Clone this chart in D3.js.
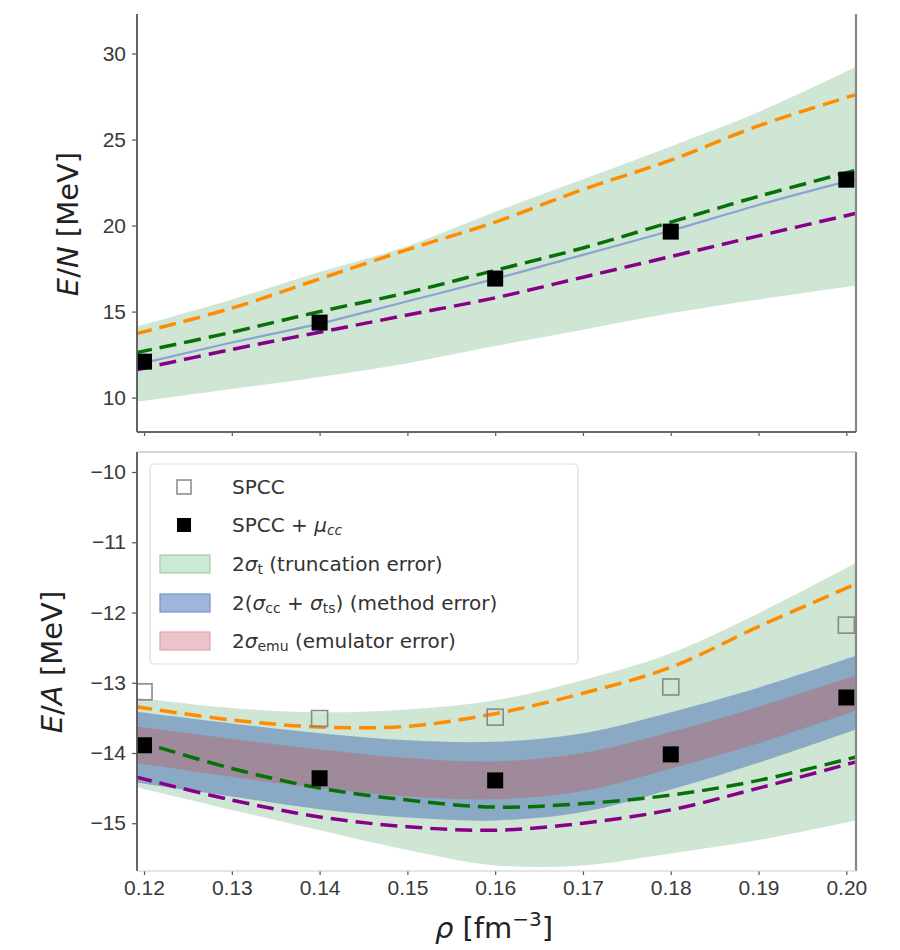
<!DOCTYPE html>
<html>
<head>
<meta charset="utf-8">
<script src="https://cdn.jsdelivr.net/npm/d3@7"></script>
<style>
  body { margin: 0; background: #fff; }
  svg { font-family: "DejaVu Sans", sans-serif; }
</style>
</head>
<body>
<div id="chart"></div>
<script>
// density grid for the curves (spans the full x range) and the SPCC sample points
const rhoGrid = [0.119, 0.13, 0.14, 0.15, 0.16, 0.17, 0.18, 0.19, 0.201];
const rhoPts = [0.12, 0.14, 0.16, 0.18, 0.20];

// top panel: E/N (neutron matter)
const pnmTruncUpper = [14.1, 15.7, 17.3, 18.8, 20.8, 22.7, 24.6, 26.6, 29.2];
const pnmTruncLower = [9.75, 10.5, 11.2, 12.0, 13.0, 13.95, 14.9, 15.7, 16.5];
const pnmOrange = [13.7, 15.2, 16.9, 18.6, 20.2, 22.1, 23.8, 25.8, 27.6];
const pnmGreen = [12.6, 13.8, 15.0, 16.1, 17.4, 18.7, 20.2, 21.7, 23.2];
const pnmPurple = [11.6, 12.8, 13.8, 14.8, 15.8, 17.0, 18.2, 19.4, 20.7];
const pnmBlue = [11.9, 13.2, 14.3, 15.6, 16.9, 18.3, 19.7, 21.2, 22.7];
const pnmSpccMu = [12.09, 14.36, 16.92, 19.65, 22.67];

// bottom panel: E/A (symmetric matter)
const snmTruncUpper = [-13.21, -13.36, -13.42, -13.38, -13.25, -12.96, -12.58, -12.01, -11.30];
const snmTruncLower = [-14.48, -14.81, -15.10, -15.38, -15.60, -15.60, -15.43, -15.24, -14.96];
const snmMethodUpper = [-13.41, -13.58, -13.72, -13.82, -13.84, -13.72, -13.42, -13.07, -12.62];
const snmMethodLower = [-14.42, -14.62, -14.80, -14.92, -14.96, -14.84, -14.52, -14.14, -13.67];
const snmEmuUpper = [-13.62, -13.80, -13.95, -14.07, -14.12, -14.00, -13.70, -13.34, -12.90];
const snmEmuLower = [-14.14, -14.34, -14.50, -14.62, -14.66, -14.54, -14.22, -13.86, -13.40];
const snmOrange = [-13.34, -13.53, -13.63, -13.62, -13.44, -13.15, -12.78, -12.20, -11.60];
const snmGreen = [-13.82, -14.22, -14.50, -14.67, -14.77, -14.72, -14.60, -14.39, -14.06];
const snmPurple = [-14.34, -14.67, -14.91, -15.05, -15.10, -15.00, -14.81, -14.50, -14.13];
const snmSpcc = [-13.13, -13.51, -13.49, -13.06, -12.18];
const snmSpccMu = [-13.89, -14.36, -14.39, -14.02, -13.21];

// ticks
const xTicks = [0.12, 0.13, 0.14, 0.15, 0.16, 0.17, 0.18, 0.19, 0.20];
const topYTicks = [10, 15, 20, 25, 30];
const bottomYTicks = [-15, -14, -13, -12, -11, -10];

const W = 900, H = 950;
const left = 137, right = 856;
const topPanel = {top: 14, bottom: 432};
const botPanel = {top: 452, bottom: 871};

const colors = {
    trunc: '#cfe6d5',
    method: '#8aa9c4',
    emu: '#9e8a9a',
    orange: '#ff8c00',
    green: '#087008',
    purple: '#880088',
    blueLine: '#88a4d2'
};

const svg = d3.select('#chart').append('svg')
    .attr('width', W)
    .attr('height', H);

const x = d3.scaleLinear().domain([0.1192, 0.2011]).range([left, right]);
const yTop = d3.scaleLinear().domain([8.0, 32.3]).range([topPanel.bottom, topPanel.top]);
const yBot = d3.scaleLinear().domain([-15.68, -9.715]).range([botPanel.bottom, botPanel.top]);

const curve = d3.curveCatmullRom.alpha(0.5);
const fmtMinus = d => d3.format('d')(d).replace('-', '\u2212');

function band(g, y, lower, upper, fill) {
    const area = d3.area()
        .x((d, i) => x(rhoGrid[i]))
        .y0((d, i) => y(lower[i]))
        .y1((d, i) => y(upper[i]))
        .curve(curve);
    g.append('path').datum(lower).attr('d', area).attr('fill', fill);
}

function dashed(g, y, vals, color) {
    const line = d3.line()
        .x((d, i) => x(rhoGrid[i]))
        .y(d => y(d))
        .curve(curve);
    g.append('path').datum(vals).attr('d', line)
        .attr('fill', 'none')
        .attr('stroke', color)
        .attr('stroke-width', 3.5)
        .attr('stroke-dasharray', '17 8');
}

function squares(g, y, vals, filled) {
    const s = 16;
    g.selectAll(null).data(vals).enter().append('rect')
        .attr('x', (d, i) => x(rhoPts[i]) - s / 2)
        .attr('y', d => y(d) - s / 2)
        .attr('width', s)
        .attr('height', s)
        .attr('fill', filled ? '#000' : 'none')
        .attr('stroke', filled ? '#000' : '#888')
        .attr('stroke-width', filled ? 0 : 1.6);
}

// clip paths so the curves stay inside the frames
const defs = svg.append('defs');
defs.append('clipPath').attr('id', 'clipTop').append('rect')
    .attr('x', left).attr('y', topPanel.top)
    .attr('width', right - left).attr('height', topPanel.bottom - topPanel.top);
defs.append('clipPath').attr('id', 'clipBot').append('rect')
    .attr('x', left).attr('y', botPanel.top)
    .attr('width', right - left).attr('height', botPanel.bottom - botPanel.top);

// ---- top panel ----
const gTop = svg.append('g').attr('clip-path', 'url(#clipTop)');
band(gTop, yTop, pnmTruncLower, pnmTruncUpper, colors.trunc);
dashed(gTop, yTop, pnmOrange, colors.orange);
dashed(gTop, yTop, pnmGreen, colors.green);
dashed(gTop, yTop, pnmPurple, colors.purple);
gTop.append('path').datum(pnmBlue)
    .attr('d', d3.line().x((d, i) => x(rhoGrid[i])).y(d => yTop(d)).curve(curve))
    .attr('fill', 'none')
    .attr('stroke', colors.blueLine)
    .attr('stroke-width', 2.2);
squares(gTop, yTop, pnmSpccMu, true);

// ---- bottom panel ----
const gBot = svg.append('g').attr('clip-path', 'url(#clipBot)');
band(gBot, yBot, snmTruncLower, snmTruncUpper, colors.trunc);
band(gBot, yBot, snmMethodLower, snmMethodUpper, colors.method);
band(gBot, yBot, snmEmuLower, snmEmuUpper, colors.emu);
dashed(gBot, yBot, snmOrange, colors.orange);
dashed(gBot, yBot, snmGreen, colors.green);
dashed(gBot, yBot, snmPurple, colors.purple);
squares(gBot, yBot, snmSpcc, false);
squares(gBot, yBot, snmSpccMu, true);

// ---- axes ----
function styleAxis(g) {
    g.select('.domain').remove();
    g.selectAll('.tick line').attr('stroke', '#555').attr('stroke-width', 1.2);
    g.selectAll('.tick text').attr('fill', '#3a3a3a').style('font-size', '21px');
}

svg.append('g')
    .attr('transform', `translate(${left},0)`)
    .call(d3.axisLeft(yTop).tickValues(topYTicks).tickSize(5).tickPadding(6))
    .call(styleAxis);

svg.append('g')
    .attr('transform', `translate(${left},0)`)
    .call(d3.axisLeft(yBot).tickValues(bottomYTicks).tickSize(5).tickPadding(6).tickFormat(fmtMinus))
    .call(styleAxis);

svg.append('g')
    .attr('transform', `translate(0,${topPanel.bottom})`)
    .call(d3.axisBottom(x).tickValues(xTicks).tickSize(4).tickFormat(''))
    .call(styleAxis);

svg.append('g')
    .attr('transform', `translate(0,${botPanel.bottom})`)
    .call(d3.axisBottom(x).tickValues(xTicks).tickSize(4).tickPadding(5).tickFormat(d3.format('.2f')))
    .call(styleAxis);

// spines
const spine = (x1, y1, x2, y2, c, w) => svg.append('line')
    .attr('x1', x1).attr('y1', y1).attr('x2', x2).attr('y2', y2)
    .attr('stroke', c).attr('stroke-width', w);
spine(left, topPanel.top, left, topPanel.bottom, '#555', 1.8);
spine(right, topPanel.top, right, topPanel.bottom, '#888', 2.2);
spine(left, topPanel.bottom, right, topPanel.bottom, '#666', 1.8);
spine(left, botPanel.top, left, botPanel.bottom, '#555', 1.8);
spine(right, botPanel.top, right, botPanel.bottom, '#888', 2.2);
spine(left, botPanel.top, right, botPanel.top, '#aaa', 1.2);
spine(left, botPanel.bottom, right, botPanel.bottom, '#ccc', 1.2);

// axis labels
function yLabel(cx, cy, letter) {
    const t = svg.append('text')
        .attr('transform', `translate(${cx},${cy}) rotate(-90)`)
        .attr('text-anchor', 'middle')
        .attr('dominant-baseline', 'central')
        .attr('fill', '#222')
        .style('font-size', '29px');
    t.append('tspan').style('font-style', 'italic').text('E');
    t.append('tspan').text('/');
    t.append('tspan').style('font-style', 'italic').text(letter);
    t.append('tspan').text(' [MeV]');
}
yLabel(68, 224, 'N');
yLabel(52, 662, 'A');

const xl = svg.append('text')
    .attr('x', 494).attr('y', 938)
    .attr('text-anchor', 'middle')
    .attr('fill', '#222')
    .style('font-size', '29px');
xl.append('tspan').style('font-style', 'italic').text('ρ');
xl.append('tspan').text(' [fm');
xl.append('tspan').attr('dy', -12).style('font-size', '20px').text('\u22123');
xl.append('tspan').attr('dy', 12).text(']');

// ---- legend ----
const legend = svg.append('g');
legend.append('rect')
    .attr('x', 150).attr('y', 464)
    .attr('width', 428).attr('height', 200)
    .attr('rx', 4)
    .attr('fill', '#fff')
    .attr('fill-opacity', 0.85)
    .attr('stroke', '#ddd')
    .attr('stroke-width', 1.2);

const legendRows = [487, 525, 564, 603, 641];
const textX = 232;

// markers
legend.append('rect').attr('x', 177).attr('y', legendRows[0] - 7).attr('width', 14).attr('height', 14)
    .attr('fill', 'none').attr('stroke', '#888').attr('stroke-width', 1.5);
legend.append('rect').attr('x', 177).attr('y', legendRows[1] - 7).attr('width', 14).attr('height', 14)
    .attr('fill', '#000');

// patches
const patches = [
    {fill: '#cde8d3', stroke: '#9ed0a8'},
    {fill: '#9fb5dc', stroke: '#7394cc'},
    {fill: '#eac4ca', stroke: '#e0a3ad'}
];
patches.forEach((p, i) => {
    legend.append('rect')
        .attr('x', 160).attr('y', legendRows[i + 2] - 9)
        .attr('width', 50).attr('height', 18)
        .attr('fill', p.fill).attr('stroke', p.stroke).attr('stroke-width', 1.2);
});

function legendText(row) {
    return legend.append('text')
        .attr('x', textX).attr('y', legendRows[row])
        .attr('dominant-baseline', 'central')
        .attr('fill', '#333')
        .style('font-size', '20px');
}
legendText(0).text('SPCC');
{
    const t = legendText(1);
    t.append('tspan').text('SPCC + ');
    t.append('tspan').style('font-style', 'italic').text('μ');
    t.append('tspan').attr('dy', 5).style('font-size', '14px').style('font-style', 'italic').text('cc');
}
{
    const t = legendText(2);
    t.append('tspan').text('2');
    t.append('tspan').style('font-style', 'italic').text('σ');
    t.append('tspan').attr('dy', 5).style('font-size', '14px').text('t');
    t.append('tspan').attr('dy', -5).text(' (truncation error)');
}
{
    const t = legendText(3);
    t.append('tspan').text('2(');
    t.append('tspan').style('font-style', 'italic').text('σ');
    t.append('tspan').attr('dy', 5).style('font-size', '14px').text('cc');
    t.append('tspan').attr('dy', -5).text(' + ');
    t.append('tspan').style('font-style', 'italic').text('σ');
    t.append('tspan').attr('dy', 5).style('font-size', '14px').text('ts');
    t.append('tspan').attr('dy', -5).text(') (method error)');
}
{
    const t = legendText(4);
    t.append('tspan').text('2');
    t.append('tspan').style('font-style', 'italic').text('σ');
    t.append('tspan').attr('dy', 5).style('font-size', '14px').text('emu');
    t.append('tspan').attr('dy', -5).text(' (emulator error)');
}
</script>
</body>
</html>
